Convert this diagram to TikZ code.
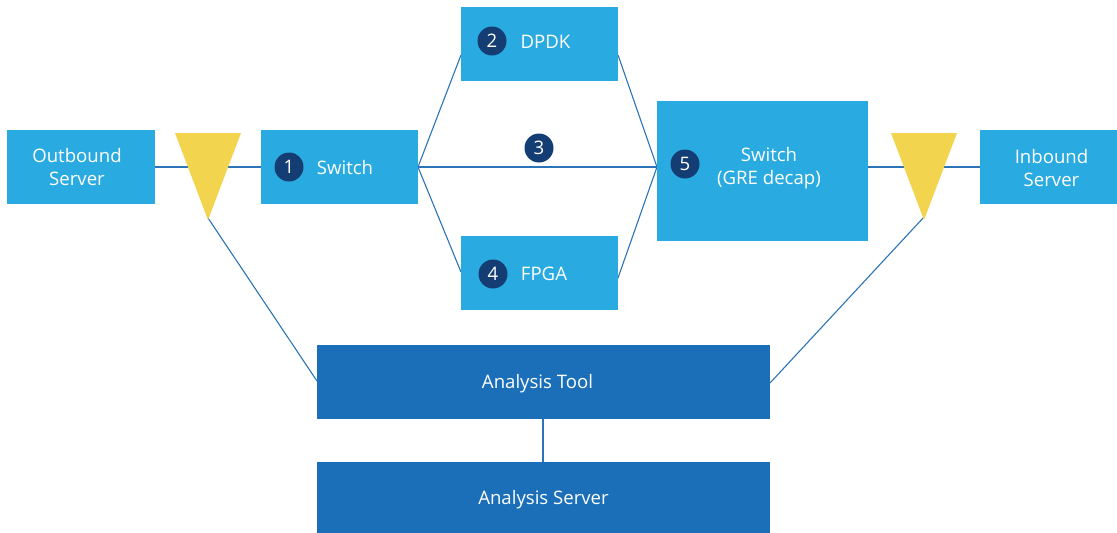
\documentclass[tikz,border=0pt]{standalone}
\usepackage{fontspec}
\setmainfont{Open Sans}
\definecolor{boxlight}{HTML}{29ABE2}
\definecolor{boxdark}{HTML}{1B6FB9}
\definecolor{badgeblue}{HTML}{143D73}
\definecolor{tapyellow}{HTML}{F2D44E}
\definecolor{linkblue}{HTML}{2B74B8}
\begin{document}
\begin{tikzpicture}[
                x=1pt, y=-1pt,
                lightbox/.style={fill=boxlight, inner sep=0pt},
                darkbox/.style={fill=boxdark, inner sep=0pt},
                boxtext/.style={text=white, font=\fontsize{18.6}{23}\selectfont, align=center, inner sep=0pt},
                badge/.style={circle, fill=badgeblue, text=white, minimum size=29pt, inner sep=0pt, font=\fontsize{18.6}{23}\selectfont},
                link/.style={draw=linkblue, line width=1.1pt},
                tap/.style={fill=tapyellow}
            ]
                \useasboundingbox (0,0) rectangle (1117,533);

                % links go below the boxes
                \coordinate (outE) at (155,167);
                \coordinate (swW) at (261,167);
                \coordinate (swE) at (418,167);
                \coordinate (dpdkW) at (461,55);
                \coordinate (dpdkE) at (618,55);
                \coordinate (fpgaW) at (461,272);
                \coordinate (fpgaE) at (618,278);
                \coordinate (decapW) at (657,167);
                \coordinate (decapE) at (868,167);
                \coordinate (inW) at (980,167);
                \coordinate (tapLtip) at (208,218);
                \coordinate (tapRtip) at (924,217);
                \coordinate (toolW) at (317,381);
                \coordinate (toolE) at (770,383);
                \coordinate (toolS) at (543,419);
                \coordinate (serverN) at (543,462);

                \draw[link] (outE) -- (swW);
                \draw[link] (swE) -- (dpdkW);
                \draw[link] (swE) -- (decapW);
                \draw[link] (swE) -- (fpgaW);
                \draw[link] (dpdkE) -- (decapW);
                \draw[link] (fpgaE) -- (decapW);
                \draw[link] (decapE) -- (inW);
                \draw[link] (tapLtip) -- (toolW);
                \draw[link] (tapRtip) -- (toolE);
                \draw[link] (toolS) -- (serverN);

                % boxes
                \node[lightbox, minimum width=148pt, minimum height=74pt] (outbound) at (81,167) {};
                \node[lightbox, minimum width=157pt, minimum height=74pt] (switch) at (339.5,167) {};
                \node[lightbox, minimum width=157pt, minimum height=74pt] (dpdk) at (539.5,44) {};
                \node[lightbox, minimum width=157pt, minimum height=74pt] (fpga) at (539.5,273) {};
                \node[lightbox, minimum width=211pt, minimum height=140pt] (decap) at (762.5,171) {};
                \node[lightbox, minimum width=137pt, minimum height=74pt] (inbound) at (1048.5,167) {};
                \node[darkbox, minimum width=453pt, minimum height=74pt] (tool) at (543.5,382) {};
                \node[darkbox, minimum width=453pt, minimum height=71pt] (server) at (543.5,497.5) {};

                % yellow taps
                \fill[tap] (175,133) -- (241,133) -- (208,220) -- cycle;
                \fill[tap] (891,133) -- (957,133) -- (924,220) -- cycle;

                % texts
                \node[boxtext] (outboundtext) at (77,167) {Outbound\\Server};
                \node[boxtext] (switchtext) at (345,167.5) {Switch};
                \node[boxtext] (dpdktext) at (545.5,42) {DPDK};
                \node[boxtext] (fpgatext) at (544,274) {FPGA};
                \node[boxtext] (decaptext) at (769,168) {Switch\\(GRE decap)};
                \node[boxtext] (inboundtext) at (1051.5,168) {Inbound\\Server};
                \node[boxtext] (tooltext) at (537.5,383.5) {Analysis Tool};
                \node[boxtext] (servertext) at (543.5,500) {Analysis Server};

                % numbered badges
                \node[badge] (one) at (289,167) {1};
                \node[badge] (two) at (492,41) {2};
                \node[badge] (three) at (539,148) {3};
                \node[badge] (four) at (493,274) {4};
                \node[badge] (five) at (685,164) {5};
            \end{tikzpicture}
\end{document}
